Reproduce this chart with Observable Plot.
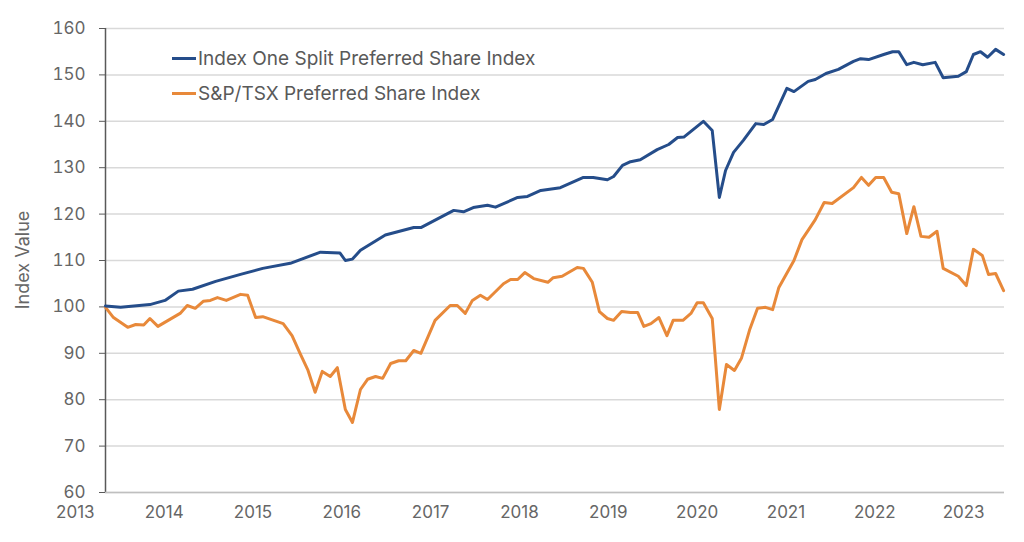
<!DOCTYPE html>
<html><head><meta charset="utf-8">
<script src="https://cdn.jsdelivr.net/npm/d3@7"></script>
<script src="https://cdn.jsdelivr.net/npm/@observablehq/plot@0.6"></script>
<style>
body{margin:0;background:#fff;font-family:Inter,"Noto Sans",sans-serif}
#wrap{position:relative;width:1024px;height:542px}
.leg{position:absolute;left:172px;font-size:19px;color:#595959;display:flex;align-items:center}
.leg span.s{display:inline-block;width:24px;height:3px;margin-right:2px}
</style></head><body>
<div id="wrap"></div>
<script>
const seriesNames=["Index One Split Preferred Share Index","S&P/TSX Preferred Share Index"];
const colors=["#254d8a","#e8893a"];
const yearTicks=[2013,2014,2015,2016,2017,2018,2019,2020,2021,2022,2023];
const yTicks=[60,70,80,90,100,110,120,130,140,150,160];
const blueT=[2013.34,2013.51,2013.84,2014.01,2014.16,2014.32,2014.58,2014.86,2015.11,2015.42,2015.76,2015.98,2016.04,2016.12,2016.21,2016.49,2016.81,2016.89,2017.26,2017.37,2017.48,2017.64,2017.73,2017.98,2018.09,2018.24,2018.46,2018.72,2018.83,2018.99,2019.06,2019.16,2019.25,2019.36,2019.55,2019.68,2019.78,2019.85,2020.07,2020.17,2020.25,2020.32,2020.41,2020.52,2020.66,2020.75,2020.85,2021.01,2021.09,2021.25,2021.33,2021.45,2021.59,2021.76,2021.84,2021.93,2022.10,2022.20,2022.27,2022.36,2022.44,2022.54,2022.68,2022.77,2022.94,2023.03,2023.11,2023.19,2023.27,2023.36,2023.45];
const blueV=[100.2,99.9,100.5,101.4,103.4,103.8,105.5,107,108.3,109.4,111.8,111.6,110,110.3,112.2,115.5,117.1,117.1,120.8,120.5,121.4,121.9,121.5,123.6,123.8,125.1,125.7,127.9,127.9,127.4,128.1,130.5,131.3,131.7,133.9,135,136.5,136.6,140,138,123.6,129.4,133.3,135.9,139.5,139.3,140.4,147.1,146.4,148.6,149,150.3,151.2,152.9,153.5,153.3,154.4,155,155,152.2,152.7,152.2,152.7,149.4,149.7,150.7,154.4,155,153.8,155.5,154.4];
const orangeT=[2013.34,2013.43,2013.59,2013.68,2013.77,2013.84,2013.93,2014.18,2014.26,2014.35,2014.44,2014.52,2014.60,2014.70,2014.86,2014.94,2015.03,2015.11,2015.34,2015.44,2015.53,2015.62,2015.70,2015.78,2015.87,2015.95,2016.04,2016.12,2016.21,2016.29,2016.38,2016.46,2016.55,2016.64,2016.72,2016.81,2016.89,2017.05,2017.22,2017.30,2017.39,2017.47,2017.56,2017.64,2017.82,2017.90,2017.98,2018.06,2018.16,2018.32,2018.38,2018.48,2018.65,2018.72,2018.82,2018.90,2018.99,2019.06,2019.15,2019.25,2019.33,2019.40,2019.48,2019.57,2019.66,2019.73,2019.84,2019.93,2020.00,2020.07,2020.17,2020.25,2020.33,2020.42,2020.50,2020.59,2020.68,2020.77,2020.85,2020.92,2021.09,2021.18,2021.25,2021.33,2021.43,2021.52,2021.76,2021.85,2021.93,2022.01,2022.10,2022.19,2022.27,2022.36,2022.44,2022.52,2022.61,2022.70,2022.77,2022.94,2023.03,2023.11,2023.21,2023.28,2023.36,2023.45];
const orangeV=[99.9,97.7,95.6,96.2,96.1,97.5,95.8,98.6,100.3,99.7,101.2,101.4,102,101.4,102.7,102.5,97.7,97.9,96.4,93.8,90,86.3,81.6,86.1,85,86.9,77.9,75.1,82.2,84.4,85,84.6,87.8,88.4,88.4,90.6,90,97.1,100.3,100.3,98.6,101.4,102.5,101.6,105,105.9,105.9,107.4,106.1,105.3,106.3,106.6,108.5,108.3,105.3,99,97.5,97.1,99,98.8,98.8,95.8,96.4,97.7,93.8,97.1,97.1,98.6,100.9,100.9,97.5,77.9,87.6,86.3,89,95,99.7,99.9,99.4,104.2,110,114.5,116.5,118.8,122.5,122.3,125.7,127.9,126.2,127.9,127.9,124.7,124.4,115.8,121.6,115.2,115,116.3,108.3,106.6,104.6,112.4,111.1,107,107.2,103.5];

const blue=blueT.map((t,i)=>({t,v:blueV[i]}));
const orange=orangeT.map((t,i)=>({t,v:orangeV[i]}));

const chart=Plot.plot({
  width:1024,height:542,
  marginLeft:105,marginRight:20,marginTop:28,marginBottom:50,
  style:{fontFamily:"Inter,'Noto Sans',sans-serif",fontSize:"17px",color:"#666",background:"#fff",overflow:"visible"},
  x:{type:"linear",domain:[2013.34,2023.46],axis:null},
  y:{type:"linear",domain:[60,160],axis:null},
  marks:[
    Plot.gridY(yTicks,{stroke:"#d9d9d9",strokeOpacity:1,strokeWidth:1.5}),
    Plot.axisY(yTicks,{tickSize:6,tickPadding:14,stroke:"#595959",fill:"#666",label:null,fontSize:17}),
    Plot.ruleX([2013.34],{stroke:"#595959",strokeWidth:1.5}),
    Plot.ruleY([60],{stroke:"#bfbfbf",strokeWidth:1.5}),
    Plot.text(yearTicks,{x:d=>d,text:d=>String(d),frameAnchor:"bottom",dy:25,fill:"#666",fontSize:17,clip:false}),
    Plot.line(orange,{x:"t",y:"v",stroke:colors[1],strokeWidth:3}),
    Plot.line(blue,{x:"t",y:"v",stroke:colors[0],strokeWidth:3})
  ]
});
chart.style.position="absolute";chart.style.left="0";chart.style.top="0";
const wrap=document.getElementById("wrap");
wrap.appendChild(chart);
seriesNames.forEach((n,i)=>{
  const d=document.createElement("div");d.className="leg";d.style.top=(47+i*35)+"px";
  d.innerHTML=`<span class="s" style="background:${colors[i]}"></span>`;
  d.appendChild(document.createTextNode(n));wrap.appendChild(d);
});
const yl=document.createElement("div");
yl.textContent="Index Value";
yl.style.cssText="position:absolute;left:22px;top:260px;transform:translate(-50%,-50%) rotate(-90deg);font-size:18px;color:#666;white-space:nowrap";
wrap.appendChild(yl);
</script></body></html>
